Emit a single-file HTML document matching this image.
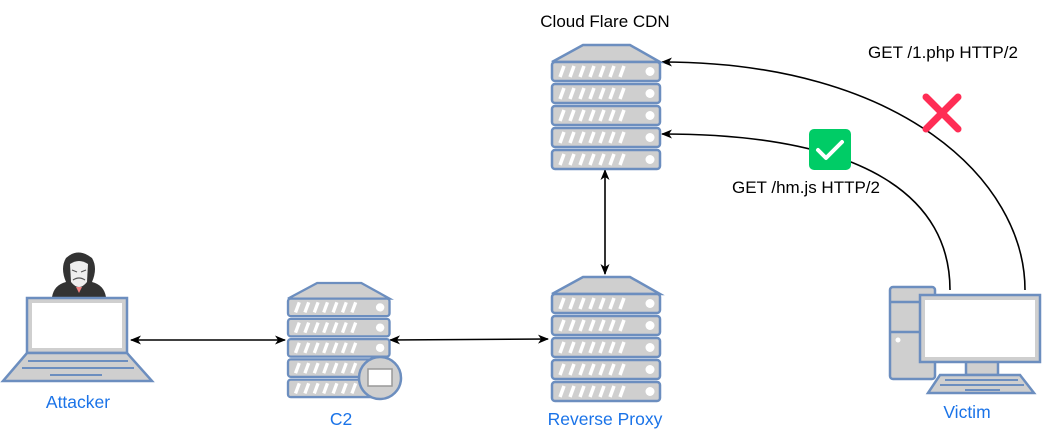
<!DOCTYPE html>
<html><head><meta charset="utf-8"><style>
html,body{margin:0;padding:0;background:#fff;}
svg{display:block;font-family:"Liberation Sans",Arial,sans-serif;}
</style></head><body>
<svg width="1042" height="429" viewBox="0 0 1042 429" xmlns="http://www.w3.org/2000/svg">
<defs>
<marker id="ar" markerWidth="12" markerHeight="12" refX="10" refY="6" orient="auto-start-reverse" markerUnits="userSpaceOnUse">
<path d="M0,1.5 L11,6 L0,10.5 L3,6 Z" fill="#000"/></marker>
<g id="unit">
<rect x="0" y="0" width="108" height="19" rx="3" fill="#cfcfcf" stroke="#6c8ebf" stroke-width="2.5"/>
<g stroke="#fff" stroke-width="3.5">
<line x1="8" y1="15" x2="12" y2="4"/><line x1="18" y1="15" x2="22" y2="4"/><line x1="28" y1="15" x2="32" y2="4"/><line x1="38" y1="15" x2="42" y2="4"/><line x1="48" y1="15" x2="52" y2="4"/><line x1="58" y1="15" x2="62" y2="4"/><line x1="68" y1="15" x2="72" y2="4"/></g>
<circle cx="98" cy="9.5" r="4.5" fill="#fff"/>
</g>
<g id="server">
<path d="M31,0 L78,0 L108,17 L0,17 Z" fill="#cfcfcf" stroke="#6c8ebf" stroke-width="2.5"/>
<use href="#unit" y="17"/><use href="#unit" y="39"/><use href="#unit" y="61"/><use href="#unit" y="83"/><use href="#unit" y="105"/>
</g>
</defs>

<!-- connectors -->
<line x1="131" y1="340" x2="285" y2="340" stroke="#000" stroke-width="1.6" marker-start="url(#ar)" marker-end="url(#ar)"/>
<line x1="390" y1="340" x2="548" y2="339" stroke="#000" stroke-width="1.6" marker-start="url(#ar)" marker-end="url(#ar)"/>
<line x1="605" y1="170" x2="605" y2="274" stroke="#000" stroke-width="1.6" marker-start="url(#ar)" marker-end="url(#ar)"/>
<path d="M1025,290 C1025,180 900,62 662,62" fill="none" stroke="#000" stroke-width="1.6" marker-end="url(#ar)"/>
<path d="M950,290 C950,200 870,134 662,134" fill="none" stroke="#000" stroke-width="1.6" marker-end="url(#ar)"/>

<!-- servers -->
<use href="#server" x="552" y="45"/>
<use href="#server" x="552" y="277"/>
<g transform="translate(288,283) scale(0.94,0.92)"><use href="#server"/></g>
<circle cx="380" cy="378" r="21" fill="#cfcfcf" stroke="#6c8ebf" stroke-width="2.5"/>
<rect x="368" y="369" width="24" height="17" fill="#fff" stroke="#999" stroke-width="1.5"/>

<!-- hacker -->
<path d="M52,297 Q54,285 66,282 Q60,268 66,258 Q78,247 92,258 Q98,268 92,282 Q104,285 106,297 Z" fill="#333"/>
<path d="M70,264 Q79,258 88,264 L87,282 Q79,292 71,282 Z" fill="#eee"/>
<g stroke="#555" stroke-width="1.2"><line x1="72" y1="270" x2="77" y2="272"/><line x1="86" y1="270" x2="81" y2="272"/><path d="M73,280 Q79,276 85,280" fill="none"/></g>
<path d="M76,287 L79,293 L82,287 Z" fill="#f08080"/>
<!-- laptop -->
<rect x="27" y="298" width="100" height="55" fill="#cfcfcf" stroke="#6c8ebf" stroke-width="2.5"/>
<rect x="32" y="303" width="90" height="45" fill="#fff"/>
<path d="M27,353 L127,353 L152,381 L3,381 Z" fill="#cfcfcf" stroke="#6c8ebf" stroke-width="2.5"/>
<g stroke="#6c8ebf" stroke-width="2"><line x1="28" y1="361" x2="128" y2="361"/><line x1="22" y1="368" x2="134" y2="368"/><line x1="50" y1="375" x2="102" y2="375"/></g>

<!-- victim -->
<rect x="890" y="287" width="45" height="92" rx="3" fill="#cfcfcf" stroke="#6c8ebf" stroke-width="2.5"/>
<line x1="890" y1="302" x2="935" y2="302" stroke="#6c8ebf" stroke-width="2.5"/>
<line x1="890" y1="332" x2="935" y2="332" stroke="#6c8ebf" stroke-width="2.5"/>
<circle cx="898" cy="340" r="2.5" fill="#fff"/>
<rect x="966" y="361" width="32" height="14" fill="#cfcfcf" stroke="#6c8ebf" stroke-width="2.5"/>
<rect x="920" y="295" width="120" height="67" fill="#cfcfcf" stroke="#6c8ebf" stroke-width="2.5"/>
<rect x="925" y="300" width="110" height="57" fill="#fff"/>
<path d="M940,375 L1020,375 L1034,393 L928,393 Z" fill="#cfcfcf" stroke="#6c8ebf" stroke-width="2.5"/>
<g stroke="#6c8ebf" stroke-width="2"><line x1="945" y1="380" x2="1018" y2="380"/><line x1="940" y1="385" x2="1024" y2="385"/><line x1="965" y1="390" x2="1000" y2="390"/></g>

<!-- status icons -->
<rect x="809" y="129" width="42" height="41" rx="5" fill="#00cc66"/>
<path d="M818,150 L826,158 L842,142" fill="none" stroke="#fff" stroke-width="4" stroke-linecap="round" stroke-linejoin="round"/>
<g stroke="#ff2d55" stroke-width="7" stroke-linecap="round"><line x1="926" y1="97" x2="958" y2="129"/><line x1="958" y1="97" x2="926" y2="129"/></g>

<!-- labels -->
<g font-size="17" fill="#000" text-anchor="middle">
<text x="605" y="27">Cloud Flare CDN</text>
<text x="943" y="58">GET /1.php HTTP/2</text>
<text x="806" y="193">GET /hm.js HTTP/2</text>
</g>
<g font-size="17.5" fill="#1a73e8" text-anchor="middle">
<text x="78" y="408">Attacker</text>
<text x="341" y="425">C2</text>
<text x="605" y="425">Reverse Proxy</text>
<text x="967" y="418">Victim</text>
</g>
</svg>
</body></html>
